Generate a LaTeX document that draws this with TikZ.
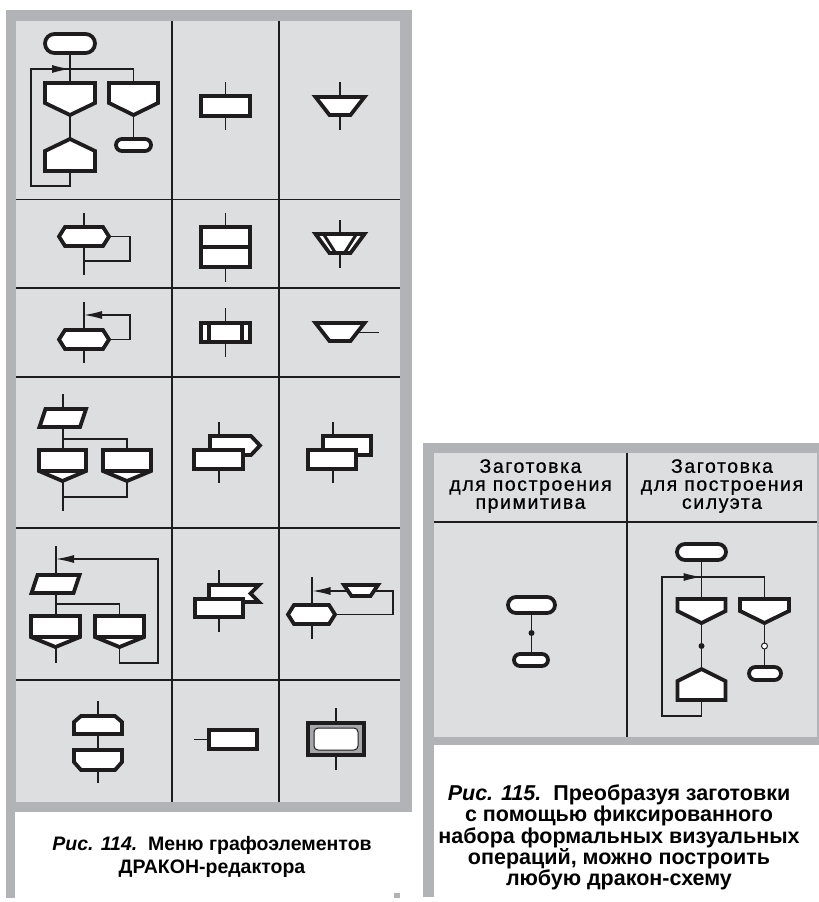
\documentclass[tikz,border=0pt]{standalone}
\usepackage{fontspec}
\setmainfont{Liberation Sans}
\newfontfamily\hdrfont[LetterSpace=8, FakeBold=0.7]{Liberation Sans}
\usetikzlibrary{arrows.meta}

\definecolor{frameGray}{RGB}{177,179,182}
\definecolor{cellGray}{RGB}{221,222,224}
\definecolor{ink}{RGB}{30,28,29}
\definecolor{boxGray}{RGB}{165,167,170}

\tikzset{
  glyph/.style={draw=ink, line width=3.8pt, fill=white, line join=miter, miter limit=4},
  wire/.style={draw=ink, line width=1.3pt},
  gridline/.style={draw=ink, line width=1.2pt},
  arr/.style={wire, -{Latex[length=18pt,width=8pt]}},
  captext/.style={font=\fontsize{19.5}{23}\selectfont\bfseries, align=center, text=black},
  hdrtext/.style={font=\hdrfont\fontsize{19.5}{18}\selectfont, align=center, text=black},
}

% stadium (start / end) shape: x1,y1,x2,y2
\newcommand{\drkTerm}[4]{%
  \pgfmathsetmacro\rr{(#4-#2)/2}%
  \draw[glyph, rounded corners=\rr pt] (#1,#2) rectangle (#3,#4);}
% question: cx, half width, top, shoulder, apex
\newcommand{\drkQuest}[5]{%
  \draw[glyph] ({#1-#2},#3) -- ({#1+#2},#3) -- ({#1+#2},#4) -- (#1,#5) -- ({#1-#2},#4) -- cycle;}
% end of loop branch (pointing up): cx, half width, apex, shoulder, bottom
\newcommand{\drkAddr}[5]{%
  \draw[glyph] (#1,#3) -- ({#1+#2},#4) -- ({#1+#2},#5) -- ({#1-#2},#5) -- ({#1-#2},#4) -- cycle;}
% trapezoid: cx, top, bottom, top half width, bottom half width
\newcommand{\drkTrap}[5]{%
  \draw[glyph] ({#1-#4},#2) -- ({#1+#4},#2) -- ({#1+#5},#3) -- ({#1-#5},#3) -- cycle;}
% hexagon: cx, cy, half width, half height, chamfer
\newcommand{\drkHex}[5]{%
  \draw[glyph] ({#1-#3},#2) -- ({#1-#3+#5},{#2-#4}) -- ({#1+#3-#5},{#2-#4})
    -- ({#1+#3},#2) -- ({#1+#3-#5},{#2+#4}) -- ({#1-#3+#5},{#2+#4}) -- cycle;}
% parallel branch box: cx, half width, top, divider, apex
\newcommand{\drkFork}[5]{%
  \draw[glyph] ({#1-#2},#3) -- ({#1+#2},#3) -- ({#1+#2},#4) -- (#1,#5) -- ({#1-#2},#4) -- cycle;
  \draw[glyph] ({#1-#2},#4) -- ({#1+#2},#4);}
% parallelogram: x1 (bottom left), x2 (bottom right), slant, top, bottom
\newcommand{\drkPar}[5]{%
  \draw[glyph] (#1,#5) -- (#2,#5) -- ({#2+#3},#4) -- ({#1+#3},#4) -- cycle;}

\begin{document}
\begin{tikzpicture}[x=1pt, y=-1pt]
\useasboundingbox (0,0) rectangle (819,902);

% ---------------- left panel: frame and grid ----------------
\fill[frameGray] (6,10) rectangle (412,812);
\fill[frameGray] (6,812) rectangle (15,898);
\fill[frameGray] (394,893) rectangle (400,898);
\fill[cellGray] (16,21) rectangle (400,802);
\foreach \gx in {172,279} \draw[gridline] (\gx,21) -- (\gx,802);
\foreach \gy in {199.5,288,377,528,680} \draw[gridline] (16,\gy) -- (400,\gy);

% row 1, cell 1: silhouette blank
\draw[wire] (70,53) -- (70,83);
\draw[wire] (70,171) -- (70,186) -- (31,186) -- (31,69) -- (133.5,69) -- (133.5,83);
\draw[arr] (40,69) -- (70,69);
\draw[wire] (70,115) -- (70,139);
\draw[wire] (133.5,115) -- (133.5,139);
\drkTerm{45}{34}{95}{53}
\drkQuest{70}{25}{83}{103}{115}
\drkQuest{133.5}{24.5}{83}{103}{115}
\drkAddr{70}{25}{139}{151}{171}
\drkTerm{116}{139}{151}{151}

% row 1, cell 2: action
\draw[wire] (225.5,82) -- (225.5,130);
\draw[glyph] (201,96) rectangle (250,116);

% row 1, cell 3: output
\draw[wire] (340,82) -- (340,130);
\drkTrap{340}{97}{115}{24.5}{10.5}

% row 2, cell 1: loop "for" with hexagon
\draw[wire] (84,213) -- (84,275);
\draw[wire] (108,236.5) -- (130,236.5) -- (130,261) -- (84,261);
\drkHex{84}{236.5}{25}{9.5}{6}

% row 2, cell 2: split action
\draw[wire] (225.5,213) -- (225.5,282);
\draw[glyph] (201,227) rectangle (250,267);
\draw[glyph] (201,247) -- (250,247);

% row 2, cell 3: double output
\draw[wire] (340,220) -- (340,268);
\drkTrap{340}{234}{253}{24.5}{10.5}
\draw[draw=ink, line width=3pt] (323.5,234) -- (335.5,253);
\draw[draw=ink, line width=3pt] (356.5,234) -- (344.5,253);

% row 3, cell 1: loop with arrow back
\draw[wire] (84,302) -- (84,363);
\draw[wire] (108,339.5) -- (130,339.5) -- (130,315) -- (100,315);
\draw[arr] (104,315) -- (84,315);
\drkHex{84}{339.5}{25}{9.5}{6}

% row 3, cell 2: inserted process
\draw[wire] (225.5,308) -- (225.5,357);
\draw[glyph] (201,323) rectangle (250,342);
\draw[glyph] (209,323) -- (209,342);
\draw[glyph] (242,323) -- (242,342);

% row 3, cell 3: output with side line
\draw[wire] (355,332.5) -- (379,332.5);
\drkTrap{340}{323}{341}{24.5}{10.5}

% row 4, cell 1: parallel branches
\draw[wire] (63,394) -- (63,511);
\draw[wire] (63,439) -- (127,439) -- (127,450);
\draw[wire] (127,481) -- (127,497) -- (63,497);
\drkPar{39.5}{80}{6}{409}{427}
\drkFork{62.5}{23.5}{450}{471}{481}
\drkFork{127}{24}{450}{471}{481}

% row 4, cell 2: shelf with arrow tab
\draw[wire] (219,422) -- (219,483);
\draw[glyph] (210,436) -- (251,436) -- (260,445.5) -- (251,455) -- (210,455) -- cycle;
\draw[glyph] (194,450) rectangle (243,469);

% row 4, cell 3: shelf
\draw[wire] (333,422) -- (333,483);
\draw[glyph] (323,436) rectangle (371,455);
\draw[glyph] (308,450) rectangle (356,469);

% row 5, cell 1: parallel branches with return arrow
\draw[wire] (56,546) -- (56,663);
\draw[wire] (119.5,647) -- (119.5,663) -- (158,663) -- (158,559) -- (70,559);
\draw[arr] (80,559) -- (56,559);
\draw[wire] (56,604) -- (119.5,604) -- (119.5,616);
\drkPar{31.5}{73.5}{6}{575}{593}
\drkFork{55.5}{24.5}{616}{637}{647}
\drkFork{119.5}{24.5}{616}{637}{647}

% row 5, cell 2: shelf with notched tab
\draw[wire] (219,570) -- (219,632);
\draw[glyph] (209,585) -- (259,585) -- (250.5,593.5) -- (259,602) -- (209,602) -- cycle;
\draw[glyph] (195,599) rectangle (243,617);

% row 5, cell 3: loop with output
\draw[wire] (312,577) -- (312,639);
\draw[wire] (312,614.5) -- (393,614.5) -- (393,591) -- (361,591);
\draw[arr] (350,591) -- (312.5,591);
\drkTrap{361}{585}{596}{17}{9.5}
\drkHex{311.5}{614.5}{23.5}{9.5}{6}

% row 6, cell 1: timer-like pair
\draw[wire] (98,701) -- (98,783);
\draw[glyph] (74,734) -- (74,722) -- (81,716) -- (115,716) -- (122,722) -- (122,734) -- cycle;
\draw[glyph] (74,750) -- (122,750) -- (122,762) -- (115,770) -- (81,770) -- (74,762) -- cycle;

% row 6, cell 2: side input
\draw[wire] (194,739.5) -- (209,739.5);
\draw[glyph] (209,730) rectangle (257,749);

% row 6, cell 3: framed box
\draw[wire] (336,708) -- (336,770);
\draw[glyph, fill=boxGray] (308,723) rectangle (364,755);
\draw[draw=ink, line width=1pt, fill=white, rounded corners=4pt] (314,728) rectangle (358,750);

% caption of the left panel
\node[captext] (capA) at (212,856.5) {\textit{Рис. 114.}\ \ Меню графоэлементов\\ДРАКОН-редактора};

% ---------------- right panel: frame and grid ----------------
\fill[frameGray] (423,443) rectangle (819,745);
\fill[frameGray] (423,745) rectangle (434,897);
\fill[cellGray] (434,453) rectangle (817,737);
\draw[gridline] (627,453) -- (627,737);
\draw[gridline] (434,522) -- (817,522);

\node[hdrtext] (hdrA) at (530.5,486) {Заготовка\\для построения\\примитива};
\node[hdrtext] (hdrB) at (722,486) {Заготовка\\для построения\\силуэта};

% primitive blank
\draw[wire] (531.5,612) -- (531.5,654);
\fill[ink] (531.5,633) circle (3pt);
\drkTerm{508}{597}{555}{613}
\drkTerm{514}{654}{548}{666}

% silhouette blank
\draw[wire] (701.5,560) -- (701.5,599);
\draw[wire] (701.5,700) -- (701.5,716) -- (662,716) -- (662,577) -- (764.5,577) -- (764.5,599);
\draw[arr] (672,577) -- (701.5,577);
\draw[wire] (701.5,623) -- (701.5,669);
\draw[wire] (764.5,623) -- (764.5,667);
\fill[ink] (701.5,646) circle (3pt);
\draw[draw=ink, line width=1pt, fill=white] (764.5,646) circle (3pt);
\drkTerm{677}{544}{726}{560}
\drkQuest{701.5}{24}{599}{611}{623}
\drkQuest{764.5}{24.5}{599}{611}{623}
\drkAddr{701.5}{24}{669}{681}{700}
\drkTerm{749}{667}{781}{680}

% caption of the right panel
\node[captext, font=\fontsize{21.5}{21.3}\selectfont\bfseries] (capB) at (619,837.5)
  {\textit{Рис. 115.}\ \ Преобразуя заготовки\\с помощью фиксированного\\набора формальных визуальных\\операций, можно построить\\любую дракон-схему};
\end{tikzpicture}
\end{document}
